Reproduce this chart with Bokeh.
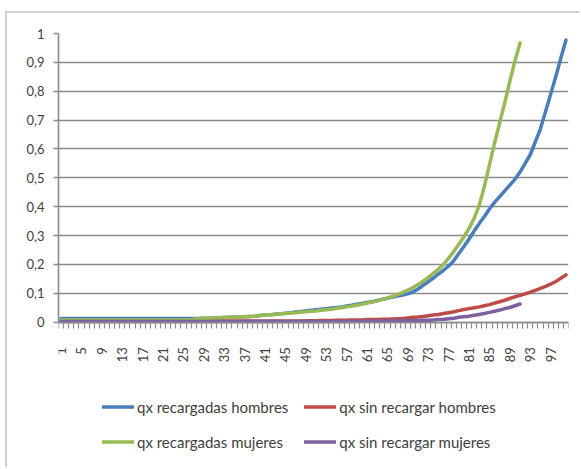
import math
from bokeh.plotting import figure
from bokeh.models import FixedTicker, Legend, LegendItem, CustomJSTickFormatter, Range1d
from bokeh.embed import file_html
from bokeh.resources import INLINE

# ---------------- data ----------------
edades = list(range(1, 101))

qx_recargadas_hombres = [
    0.013, 0.013, 0.013, 0.013, 0.013, 0.013, 0.013, 0.013, 0.013, 0.013,
    0.013, 0.013, 0.013, 0.013, 0.013, 0.013, 0.013, 0.013, 0.013, 0.013,
    0.013, 0.013, 0.013, 0.013, 0.013, 0.013, 0.013, 0.013, 0.014, 0.014,
    0.015, 0.015, 0.016, 0.017, 0.017, 0.018, 0.019, 0.020, 0.021, 0.023,
    0.025, 0.026, 0.028, 0.029, 0.031, 0.033, 0.035, 0.037, 0.039, 0.041,
    0.043, 0.045, 0.047, 0.049, 0.051, 0.053, 0.056, 0.059, 0.062, 0.065,
    0.068, 0.071, 0.075, 0.079, 0.083, 0.087, 0.091, 0.094, 0.098, 0.105,
    0.115, 0.128, 0.140, 0.153, 0.167, 0.180, 0.195, 0.213, 0.238, 0.262,
    0.288, 0.316, 0.342, 0.366, 0.392, 0.415, 0.435, 0.455, 0.475, 0.495,
    0.520, 0.550, 0.580, 0.625, 0.670, 0.730, 0.790, 0.850, 0.915, 0.977,
]

qx_sin_recargar_hombres = [
    0.004, 0.004, 0.004, 0.004, 0.004, 0.004, 0.004, 0.004, 0.004, 0.004,
    0.004, 0.004, 0.004, 0.004, 0.004, 0.004, 0.004, 0.004, 0.004, 0.004,
    0.004, 0.004, 0.004, 0.004, 0.004, 0.004, 0.004, 0.004, 0.004, 0.004,
    0.004, 0.004, 0.004, 0.004, 0.004, 0.004, 0.004, 0.004, 0.004, 0.004,
    0.004, 0.004, 0.004, 0.004, 0.004, 0.004, 0.004, 0.004, 0.005, 0.005,
    0.005, 0.006, 0.006, 0.006, 0.007, 0.007, 0.007, 0.008, 0.008, 0.008,
    0.009, 0.009, 0.009, 0.010, 0.010, 0.011, 0.012, 0.013, 0.015, 0.017,
    0.018, 0.020, 0.022, 0.025, 0.027, 0.030, 0.033, 0.036, 0.040, 0.044,
    0.047, 0.050, 0.053, 0.057, 0.061, 0.066, 0.071, 0.076, 0.082, 0.088,
    0.093, 0.098, 0.104, 0.110, 0.117, 0.124, 0.132, 0.141, 0.152, 0.164,
]

qx_recargadas_mujeres = [
    0.008, 0.008, 0.008, 0.008, 0.008, 0.008, 0.008, 0.008, 0.008, 0.008,
    0.008, 0.008, 0.008, 0.008, 0.008, 0.008, 0.008, 0.008, 0.008, 0.008,
    0.008, 0.008, 0.008, 0.008, 0.008, 0.008, 0.010, 0.013, 0.014, 0.014,
    0.015, 0.015, 0.016, 0.017, 0.017, 0.018, 0.019, 0.020, 0.021, 0.023,
    0.025, 0.026, 0.027, 0.029, 0.030, 0.032, 0.033, 0.035, 0.036, 0.038,
    0.039, 0.041, 0.043, 0.045, 0.048, 0.050, 0.053, 0.056, 0.059, 0.062,
    0.066, 0.070, 0.074, 0.079, 0.084, 0.089, 0.096, 0.103, 0.111, 0.120,
    0.131, 0.142, 0.155, 0.169, 0.184, 0.200, 0.222, 0.245, 0.270, 0.296,
    0.325, 0.360, 0.405, 0.470, 0.545, 0.620, 0.690, 0.760, 0.835, 0.905,
    0.967,
]

qx_sin_recargar_mujeres = [
    0.002, 0.002, 0.002, 0.002, 0.002, 0.002, 0.002, 0.002, 0.002, 0.002,
    0.002, 0.002, 0.002, 0.002, 0.002, 0.002, 0.002, 0.002, 0.002, 0.002,
    0.002, 0.002, 0.002, 0.002, 0.002, 0.002, 0.002, 0.002, 0.002, 0.002,
    0.002, 0.002, 0.002, 0.002, 0.002, 0.002, 0.002, 0.002, 0.002, 0.002,
    0.002, 0.002, 0.002, 0.002, 0.002, 0.002, 0.002, 0.002, 0.002, 0.002,
    0.002, 0.002, 0.002, 0.002, 0.002, 0.002, 0.002, 0.002, 0.003, 0.003,
    0.003, 0.003, 0.003, 0.004, 0.004, 0.004, 0.004, 0.005, 0.005, 0.005,
    0.006, 0.007, 0.007, 0.008, 0.009, 0.010, 0.012, 0.014, 0.017, 0.019,
    0.021, 0.024, 0.027, 0.030, 0.034, 0.038, 0.042, 0.047, 0.051, 0.057,
    0.063,
]

series_nombres = [
    "qx recargadas hombres",
    "qx sin recargar hombres",
    "qx recargadas mujeres",
    "qx sin recargar mujeres",
]
series_valores = [
    qx_recargadas_hombres,
    qx_sin_recargar_hombres,
    qx_recargadas_mujeres,
    qx_sin_recargar_mujeres,
]
series_colores = ["#4A7EBB", "#BE4B48", "#98B954", "#7D60A0"]

y_ticks = [0, 0.1, 0.2, 0.3, 0.4, 0.5, 0.6, 0.7, 0.8, 0.9, 1.0]
x_ticks = edades[::4]

# ---------------- layout (pixels) ----------------
W, H = 574, 456
LEFT, RIGHT, TOP = 51, 13, 20
ZERO_PX = 308.7          # screen y of value 0 inside the canvas
unit_px = ZERO_PX - TOP   # pixels for one unit of y
y_low = -(H - ZERO_PX) / unit_px   # frame extends below 0 to hold the legend

FONT = "Lato"
TXT = "#404040"
GRID = "#8a8a8a"

p = figure(
    width=W, height=H,
    x_range=Range1d(edades[0] - 0.5, edades[-1] + 0.5),
    y_range=Range1d(y_low, 1),
    output_backend="svg", toolbar_location=None,
    min_border_left=LEFT, min_border_right=RIGHT,
    min_border_top=TOP, min_border_bottom=0,
)
p.styles = {
    "border-top": "2px solid #d0d0d0",
    "border-left": "2px solid #d0d0d0",
    "margin-left": "5px",
    "margin-top": "11px",
}
p.outline_line_color = None
p.background_fill_color = "white"
p.border_fill_color = "white"

renderers = []
for nombre, vals, col in zip(series_nombres, series_valores, series_colores):
    r = p.line(edades[:len(vals)], vals, line_color=col, line_width=3.5,
               line_join="round", line_cap="round")
    renderers.append(r)

# grid
p.xgrid.visible = False
p.ygrid.ticker = FixedTicker(ticks=y_ticks)
p.ygrid.grid_line_color = GRID
p.ygrid.grid_line_width = 1.6

# y axis
ya = p.yaxis[0]
ya.bounds = (0, 1)
ya.ticker = FixedTicker(ticks=y_ticks, minor_ticks=[])
ya.formatter = CustomJSTickFormatter(
    code="const v = Math.round(tick*10)/10; return v.toString().replace('.', ',');")
ya.axis_line_color = GRID
ya.axis_line_width = 1.6
ya.major_tick_line_color = GRID
ya.major_tick_line_width = 1.6
ya.major_tick_out = 5
ya.major_tick_in = 0
ya.minor_tick_out = 0
ya.minor_tick_in = 0
ya.major_label_standoff = 9
ya.major_label_text_font = FONT
ya.major_label_text_font_size = "13px"
ya.major_label_text_color = TXT

# x axis (drawn at value 0)
xa = p.xaxis[0]
xa.fixed_location = 0
xa.ticker = FixedTicker(ticks=x_ticks,
                        minor_ticks=[e - 0.5 for e in edades] + [edades[-1] + 0.5])
xa.axis_line_color = GRID
xa.axis_line_width = 1.6
xa.major_tick_out = 0
xa.major_tick_in = 0
xa.minor_tick_out = 6
xa.minor_tick_in = 0
xa.minor_tick_line_color = GRID
xa.minor_tick_line_width = 1.2
xa.major_label_orientation = math.pi / 2
xa.major_label_standoff = 19
xa.major_label_text_font = FONT
xa.major_label_text_font_size = "13px"
xa.major_label_text_color = TXT

# legend
items = [LegendItem(label=n, renderers=[r]) for n, r in zip(series_nombres, renderers)]
legend = Legend(
    items=items, location=(44, 18), orientation="horizontal", ncols=2,
    glyph_width=32, glyph_height=19, label_height=19, spacing=16,
    padding=0, margin=0, label_standoff=3,
    border_line_color=None, background_fill_alpha=0,
    label_text_font=FONT, label_text_font_size="15px", label_text_color=TXT,
)
p.add_layout(legend)

open("out.html", "w").write(file_html(p, INLINE))
